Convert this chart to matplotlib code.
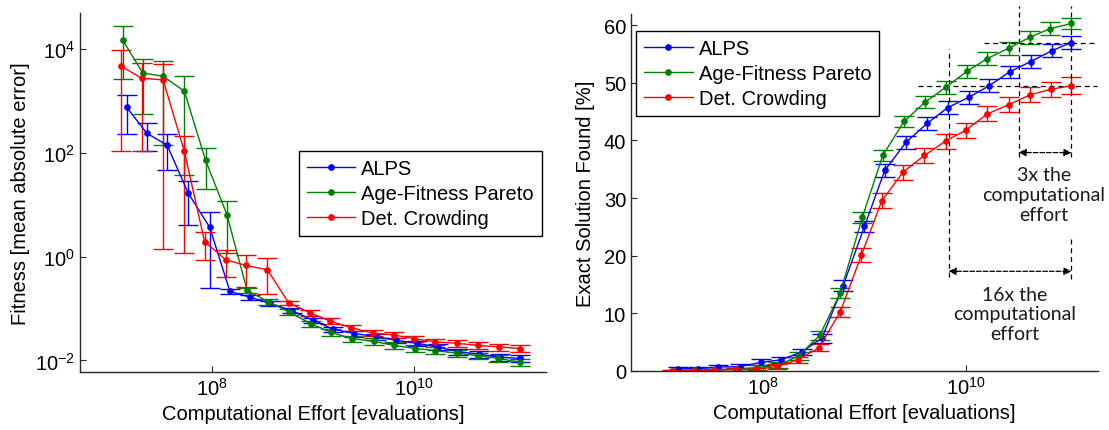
import numpy as np
import matplotlib
matplotlib.use('Agg')
import matplotlib.pyplot as plt
from matplotlib.lines import Line2D

plt.rcParams['font.family'] = ['Liberation Sans', 'DejaVu Sans']
plt.rcParams['mathtext.fontset'] = 'custom'
plt.rcParams['mathtext.rm'] = 'Liberation Sans'
plt.rcParams['mathtext.it'] = 'Liberation Sans:italic'

# Computational effort per checkpoint (log10 of evaluations)
alps_exp = [7.16, 7.36, 7.56, 7.77, 7.98, 8.18, 8.38, 8.58, 8.79, 9.00,
            9.20, 9.41, 9.62, 9.82, 10.03, 10.23, 10.43, 10.64, 10.85, 11.04]
afp_exp = [7.12, 7.32, 7.52, 7.73, 7.94, 8.15, 8.35, 8.56, 8.76, 8.98,
           9.18, 9.39, 9.60, 9.80, 10.01, 10.21, 10.42, 10.63, 10.83, 11.04]
dc_exp = [7.10, 7.31, 7.52, 7.73, 7.93, 8.14, 8.34, 8.55, 8.76, 8.97,
          9.17, 9.38, 9.59, 9.80, 10.00, 10.21, 10.42, 10.63, 10.84, 11.04]

# Fitness (mean absolute error) and its spread
alps_fit = [759, 240, 141, 16.6, 3.7, 0.214, 0.166, 0.126, 0.091, 0.060,
            0.040, 0.033, 0.029, 0.0245, 0.0214, 0.0182, 0.0148, 0.0132, 0.0115, 0.0110]
alps_fit_err = [530, 132, 95, 12.5, 3.45, 0.024, 0.018, 0.014, 0.010, 0.007,
                0.005, 0.0042, 0.0037, 0.0032, 0.0028, 0.0024, 0.0020, 0.0018, 0.0016, 0.0016]
afp_fit = [15100, 3470, 3020, 1550, 72, 6.5, 0.224, 0.135, 0.087, 0.051,
           0.0347, 0.0263, 0.0234, 0.0195, 0.0170, 0.0155, 0.0138, 0.0123, 0.0110, 0.0093]
afp_fit_err = [12400, 2900, 2875, 1512, 52, 5.3, 0.025, 0.016, 0.011, 0.007,
               0.005, 0.0038, 0.0034, 0.0029, 0.0025, 0.0023, 0.0020, 0.0018, 0.0016, 0.0014]
dc_fit = [4790, 2750, 2570, 107, 1.95, 0.87, 0.68, 0.56, 0.129, 0.083,
          0.0575, 0.0427, 0.0339, 0.0309, 0.0263, 0.0229, 0.0214, 0.0195, 0.0182, 0.0170]
dc_fit_err = [4680, 2640, 2568.6, 105.8, 1.1, 0.47, 0.42, 0.37, 0.014, 0.011,
              0.0075, 0.0055, 0.0045, 0.0040, 0.0035, 0.0030, 0.0030, 0.0028, 0.0027, 0.0027]

# Exact solutions found [%] and spread
alps_found = [0.4, 0.4, 0.7, 0.75, 1.5, 1.95, 3.3, 5.7, 14.8, 25.1,
              34.8, 39.7, 43.0, 45.7, 47.5, 49.5, 51.9, 53.7, 55.6, 57.0]
alps_found_err = [0.3, 0.3, 0.35, 0.4, 0.5, 0.5, 0.6, 0.8, 0.95, 0.95,
                  1.2, 1.1, 1.1, 1.1, 1.1, 1.1, 1.1, 1.1, 1.1, 1.2]
afp_found = [0.0, 0.1, 0.2, 0.3, 0.6, 1.0, 2.6, 6.2, 13.5, 26.7,
             37.4, 43.3, 46.7, 49.2, 52.0, 54.2, 56.0, 57.9, 59.4, 60.3]
afp_found_err = [0.1, 0.15, 0.2, 0.3, 0.4, 0.5, 0.7, 0.8, 0.9, 0.95,
                 1.0, 1.0, 1.1, 1.1, 1.1, 1.1, 1.1, 1.1, 1.1, 1.0]
dc_found = [0.05, 0.05, 0.2, 0.3, 0.3, 0.8, 1.95, 4.0, 10.2, 20.1,
            29.5, 34.5, 37.4, 39.9, 41.8, 44.6, 46.2, 47.9, 48.9, 49.5]
dc_found_err = [0.1, 0.1, 0.2, 0.3, 0.3, 0.4, 0.5, 0.6, 0.9, 1.2,
                1.3, 1.3, 1.3, 1.3, 1.3, 1.3, 1.3, 1.3, 1.3, 1.5]

labels = ['ALPS', 'Age-Fitness Pareto', 'Det. Crowding']
colors = ['#0000FF', '#008000', '#FF0000']
efforts = [alps_exp, afp_exp, dc_exp]
fits = [(alps_fit, alps_fit_err), (afp_fit, afp_fit_err), (dc_fit, dc_fit_err)]
founds = [(alps_found, alps_found_err), (afp_found, afp_found_err), (dc_found, dc_found_err)]

FS = 14.5
axis_col = '#262626'

fig = plt.figure(figsize=(11.09, 4.31), dpi=100)
ax1 = fig.add_axes([0.0721, 0.1346, 0.4202, 0.833])
ax2 = fig.add_axes([0.569, 0.1369, 0.421, 0.829])


def draw_series(ax, data):
    for exp, (vals, err), col in zip(efforts, data, colors):
        x = np.power(10.0, exp)
        ax.errorbar(x, vals, yerr=err, color=col, ecolor=col, lw=1.0,
                    elinewidth=1.0, capsize=7, capthick=1.0,
                    marker='o', markersize=3.8)


def style_axis(ax):
    ax.spines['top'].set_visible(False)
    ax.spines['right'].set_visible(False)
    for s in ('left', 'bottom'):
        ax.spines[s].set_color(axis_col)
        ax.spines[s].set_linewidth(1.0)
    ax.tick_params(which='both', direction='in', length=4, colors=axis_col,
                   labelcolor='black', labelsize=FS)
    ax.set_xscale('log')
    ax.set_xlim(5e6, 2e11)
    ax.set_xticks([1e8, 1e10])
    ax.set_xticklabels(['$10^{8}$', '$10^{10}$'])
    ax.minorticks_off()
    ax.set_xlabel('Computational Effort [evaluations]', fontsize=FS, labelpad=4)


# Left: fitness over effort
draw_series(ax1, fits)
style_axis(ax1)
ax1.set_yscale('log')
ax1.set_ylim(6e-3, 5e4)
ax1.set_yticks([1e-2, 1e0, 1e2, 1e4])
ax1.set_yticklabels(['$10^{-2}$', '$10^{0}$', '$10^{2}$', '$10^{4}$'])
ax1.minorticks_off()
ax1.set_ylabel('Fitness [mean absolute error]', fontsize=FS, labelpad=4)

# Right: success rate over effort
draw_series(ax2, founds)
style_axis(ax2)
ax2.set_ylim(0, 62)
ax2.set_yticks([0, 10, 20, 30, 40, 50, 60])
ax2.set_ylabel('Exact Solution Found [%]', fontsize=FS, labelpad=6)

handles = [Line2D([], [], color=c, lw=1.0, marker='o', markersize=3.8) for c in colors]
for ax, anchor in ((ax1, (0.47, 0.616)), (ax2, (0.011, 0.951))):
    leg = ax.legend(handles, labels, loc='upper left', bbox_to_anchor=anchor,
                    borderaxespad=0, fontsize=FS, fancybox=False, framealpha=1,
                    edgecolor='black', handlelength=2.4, labelspacing=0.3,
                    borderpad=0.4, handletextpad=0.3)
    leg.get_frame().set_linewidth(1.0)

# Effort comparison guides on the success plot
dash = (0, (4, 3))
x_end = 10 ** 11.04
x_16 = 10 ** 9.83
x_3 = 10 ** 10.52
gkw = dict(color='black', lw=0.9, ls=dash, clip_on=False)
ax2.plot([10 ** 9.525, 10 ** 11.29], [49.5, 49.5], **gkw)
ax2.plot([10 ** 10.18, 10 ** 11.29], [57.0, 57.0], **gkw)
ax2.plot([x_16, x_16], [16.3, 55.9], **gkw)
ax2.plot([x_3, x_3], [37.2, 63.3], **gkw)
ax2.plot([x_end, x_end], [37.2, 63.3], **gkw)
ax2.plot([x_end, x_end], [15.9, 23.2], **gkw)

akw = dict(arrowstyle='<|-|>', color='black', lw=0.9, linestyle='--',
           shrinkA=0, shrinkB=0, mutation_scale=11)
ax2.annotate('', xy=(x_end, 37.9), xytext=(x_3, 37.9), arrowprops=akw)
ax2.annotate('', xy=(x_end, 17.3), xytext=(x_16, 17.3), arrowprops=akw)

tkw = dict(ha='center', va='center', fontsize=14, family=['Lato', 'DejaVu Sans'],
           linespacing=1.2, color='#1a1a1a')
ax2.text(10 ** 10.77, 30.6, '3x the\ncomputational\neffort', **tkw)
ax2.text(10 ** 10.48, 9.9, '16x the\ncomputational\neffort', **tkw)

fig.savefig('out.png', dpi=100, facecolor='white')
